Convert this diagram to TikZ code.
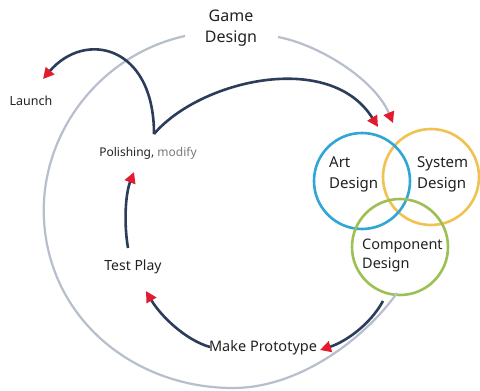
\documentclass[tikz,border=0pt]{standalone}
\usepackage{fontspec}
\setmainfont{Noto Sans}
\usetikzlibrary{arrows.meta}
\definecolor{arcgray}{HTML}{B7BFCC}
\definecolor{navy}{HTML}{2B3D5B}
\definecolor{tipred}{HTML}{E31B2E}
\definecolor{cblue}{HTML}{2FA6D6}
\definecolor{cyellow}{HTML}{F1C24F}
\definecolor{cgreen}{HTML}{9DC052}
\definecolor{txt}{HTML}{222222}
\begin{document}
\begin{tikzpicture}[x=1pt,y=-1pt,
  redtip/.tip={Triangle[length=11pt,width=11pt,color=tipred,fill=tipred]},
  grayline/.style={draw=arcgray,line width=2.2pt},
  flow/.style={draw=navy,line width=2.6pt,-redtip},
  ring/.style={circle,line width=2.6pt,minimum size=96pt,inner sep=0pt},
  lbl/.style={text=txt,inner sep=0pt}]
\useasboundingbox[fill=white] (0,0) rectangle (480,391);

% circles
\node[ring,draw=cyellow] (sysc) at (431,177) {};
\node[ring,draw=cblue] (artc) at (362,181) {};
\node[ring,draw=cgreen] (compc) at (400,247) {};

% labels
\node[lbl,align=center,font=\fontsize{16}{21}\selectfont] (game) at (231,28) {Game\\Design};
\node[lbl,align=left,anchor=west,font=\fontsize{15}{21}\selectfont] (art) at (329,174) {Art\\Design};
\node[lbl,align=left,anchor=west,font=\fontsize{15}{21}\selectfont] (sys) at (417,174) {System\\Design};
\node[lbl,align=left,anchor=west,font=\fontsize{14.5}{19}\selectfont] (comp) at (362,255) {Component\\Design};
\node[lbl,font=\fontsize{12.5}{15}\selectfont] (launch) at (31,101) {Launch};
\node[lbl,font=\fontsize{12}{15}\selectfont] (polish) at (148,153) {Polishing, \textcolor{gray!95!black}{modify}};
\node[lbl,font=\fontsize{14}{17}\selectfont] (test) at (133,267) {Test Play};
\node[lbl,font=\fontsize{14.5}{17}\selectfont] (proto) at (263,348) {Make Prototype};

% connector end points
\coordinate (g1) at (185,36);
\coordinate (gl) at (44,220);
\coordinate (gb) at (233,388);
\coordinate (g2) at (278,37);
\coordinate (gend) at (397,293);
\coordinate (gtip) at (393,123);
\coordinate (cusp) at (154,134);
\coordinate (ltip) at (43,79);
\coordinate (atip) at (378,127);
\coordinate (tpS) at (128,248);
\coordinate (tpT) at (134,172);
\coordinate (mpS) at (210,347);
\coordinate (mpT) at (146,291);
\coordinate (cdS) at (383,301);
\coordinate (cdT) at (320,350);

% gray cycle
\draw[grayline] (g1) .. controls (100.6,54.4) and (39.2,133.6) .. (gl)
  .. controls (49.5,319) and (134,388) .. (gb)
  .. controls (300,388) and (365,338) .. (gend);
\draw[grayline,-redtip] (g2) .. controls (320,45) and (375,80) .. (gtip);

% navy flows
\draw[flow] (cusp) .. controls (154,45) and (85,30) .. (ltip);
\draw[flow] (cusp) .. controls (200,80) and (330,50) .. (atip);
\draw[flow] (tpS) .. controls (124,225) and (125,195) .. (tpT);
\draw[flow] (mpS) .. controls (185,340) and (160,315) .. (mpT);
\draw[flow] (cdS) .. controls (370,325) and (345,342) .. (cdT);
\end{tikzpicture}
\end{document}
